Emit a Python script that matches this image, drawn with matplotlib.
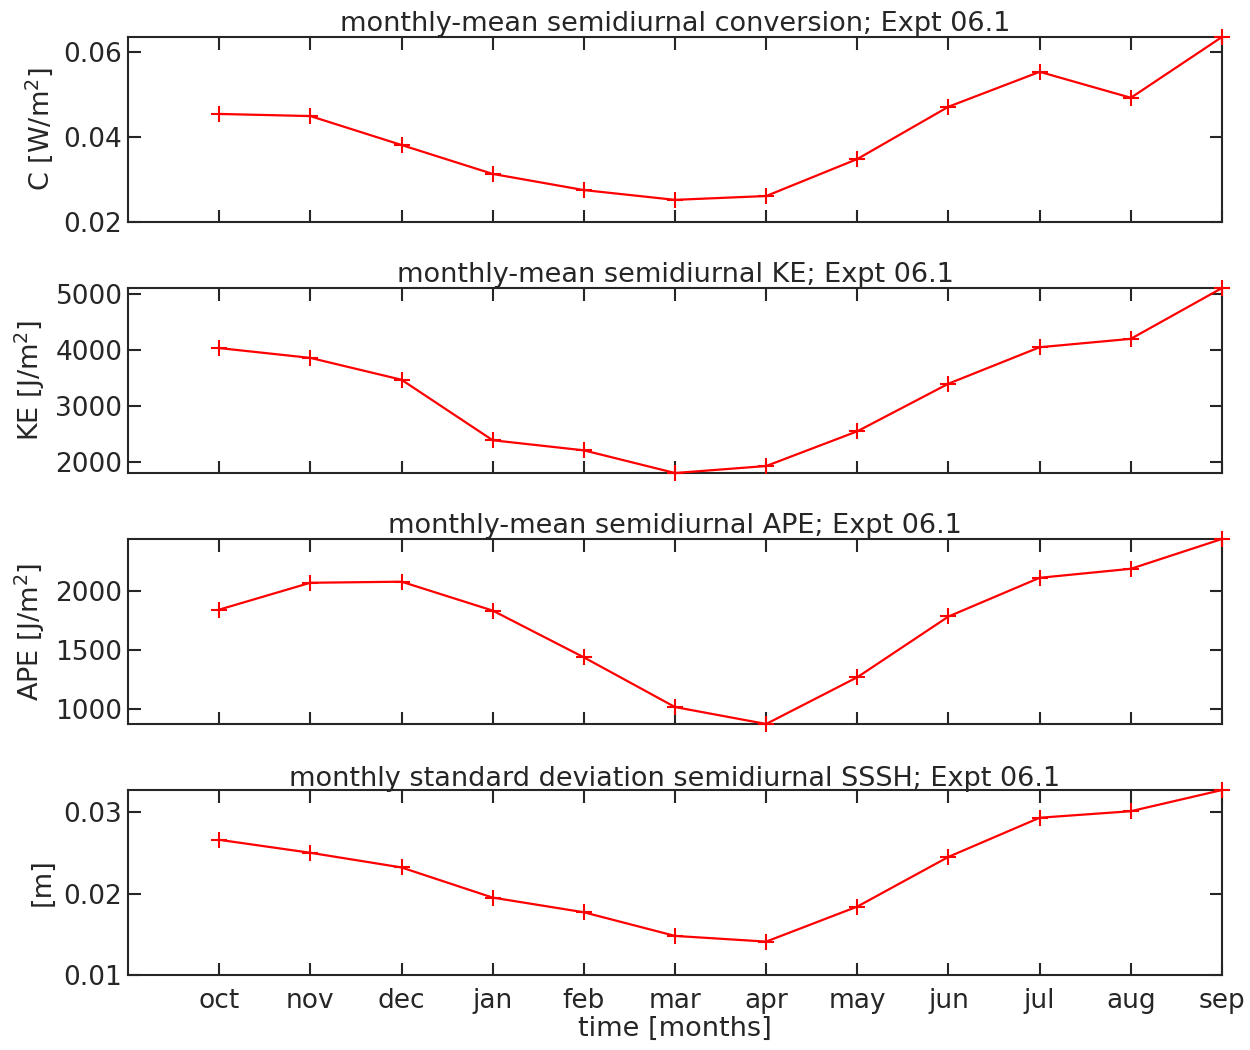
import numpy as np
from matplotlib import pyplot as plt

months = ['oct', 'nov', 'dec', 'jan', 'feb', 'mar', 'apr', 'may', 'jun', 'jul', 'aug', 'sep']

conv = [0.0454, 0.0449, 0.0381, 0.0313, 0.0275, 0.0252, 0.0261, 0.0348, 0.0471, 0.0553, 0.0492, 0.0635]
ke = [4035, 3860, 3470, 2390, 2210, 1805, 1930, 2550, 3400, 4050, 4200, 5107]
ape = [1840, 2067, 2076, 1832, 1437, 1017, 874, 1269, 1782, 2109, 2185, 2437]
sssh = [0.02659, 0.0250, 0.0232, 0.0195, 0.0177, 0.0148, 0.0141, 0.0184, 0.0245, 0.0293, 0.0301, 0.0327]

titles = ['monthly-mean semidiurnal conversion; Expt 06.1',
          'monthly-mean semidiurnal KE; Expt 06.1',
          'monthly-mean semidiurnal APE; Expt 06.1',
          'monthly standard deviation semidiurnal SSSH; Expt 06.1']
ylabels = ['C [W/m$^2$]', 'KE [J/m$^2$]', 'APE [J/m$^2$]', '[m]']
yticks = [[0.02, 0.04, 0.06], [2000, 3000, 4000, 5000], [1000, 1500, 2000], [0.01, 0.02, 0.03]]
ylims = [(0.02, max(conv)), (min(ke), max(ke)), (min(ape), max(ape)), (0.01, max(sssh))]
series = [conv, ke, ape, sssh]

plt.rcParams['font.family'] = 'DejaVu Sans'
plt.rcParams['text.color'] = '#262626'
plt.rcParams['axes.labelcolor'] = '#262626'

fig = plt.figure(figsize=(12.5, 10.5), dpi=100)
x = np.arange(1, 13)
bottoms = [0.7886, 0.5495, 0.3105, 0.0714]

for i in range(4):
    ax = fig.add_axes([0.1024, bottoms[i], 0.8752, 0.1762])
    ax.plot(x, series[i], color='red', linewidth=1.6, marker='+',
            markersize=11, markeredgewidth=1.5, clip_on=False, zorder=5)
    ax.set_xlim(0, 12)
    ax.set_ylim(*ylims[i])
    ax.set_xticks(x)
    ax.set_yticks(yticks[i])
    if i == 3:
        ax.set_xticklabels(months)
        ax.set_xlabel('time [months]', fontsize=19.5, labelpad=2)
    else:
        ax.set_xticklabels([])
    ax.set_title(titles[i], fontsize=19.5, pad=3)
    ax.set_ylabel(ylabels[i], fontsize=19.5, labelpad=6)
    ax.tick_params(direction='in', length=9, width=1.5, top=True, right=True,
                   colors='#262626', labelsize=19)
    ax.tick_params(axis='x', pad=9)
    ax.tick_params(axis='y', pad=4)
    for s in ax.spines.values():
        s.set_linewidth(1.5)
        s.set_color('#262626')

fig.savefig('out.png', dpi=100)
